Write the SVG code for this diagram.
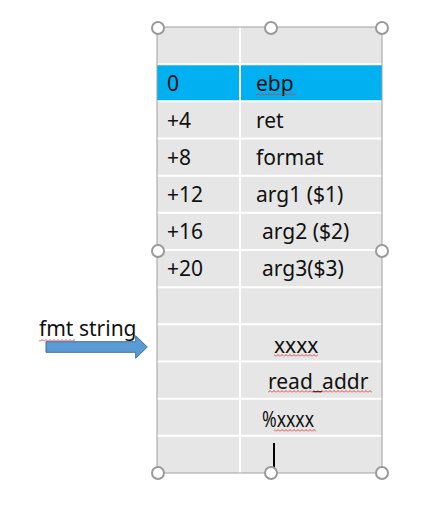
<svg xmlns="http://www.w3.org/2000/svg" width="448" height="509" viewBox="0 0 448 509">
<style>
  .t { font-family: "Noto Sans", "Liberation Sans", sans-serif; font-size: 21px; fill: #111; }
  .grid { stroke: #ffffff; stroke-width: 2; }
  .handle { fill: #ffffff; stroke: #9a9a9a; stroke-width: 2; }
  .sq { fill: url(#squig); }
</style>
<defs>
  <pattern id="squig" width="4" height="3" patternUnits="userSpaceOnUse">
    <path d="M0,2.5 L2,0.5 L4,2.5" fill="none" stroke="#e03535" stroke-width="0.9"/>
  </pattern>
</defs>
<rect width="448" height="509" fill="#ffffff"/>
<g id="table">
  <rect x="157" y="27" width="225" height="446" fill="#e6e6e6"/>
  <rect x="157" y="64.2" width="225" height="37.1" fill="#00b0f0"/>
  <g class="grid">
    <line x1="157" y1="64.2" x2="382" y2="64.2"/>
    <line x1="157" y1="101.3" x2="382" y2="101.3"/>
    <line x1="157" y1="138.5" x2="382" y2="138.5"/>
    <line x1="157" y1="175.7" x2="382" y2="175.7"/>
    <line x1="157" y1="212.8" x2="382" y2="212.8"/>
    <line x1="157" y1="250" x2="382" y2="250"/>
    <line x1="157" y1="287.2" x2="382" y2="287.2"/>
    <line x1="157" y1="324.3" x2="382" y2="324.3"/>
    <line x1="157" y1="361.5" x2="382" y2="361.5"/>
    <line x1="157" y1="398.7" x2="382" y2="398.7"/>
    <line x1="157" y1="435.8" x2="382" y2="435.8"/>
    <line x1="240" y1="27" x2="240" y2="473"/>
  </g>
  <rect x="157" y="27" width="225" height="446" fill="none" stroke="#a0a0a0" stroke-width="1"/>
  <text class="t" x="167" y="91">0</text>
  <text class="t" x="256" y="91">ebp</text>
  <text class="t" x="167" y="128">+4</text>
  <text class="t" x="256" y="128">ret</text>
  <text class="t" x="167" y="165">+8</text>
  <text class="t" x="256" y="165">format</text>
  <text class="t" x="167" y="202">+12</text>
  <text class="t" x="256" y="202">arg1 ($1)</text>
  <text class="t" x="167" y="239">+16</text>
  <text class="t" x="262" y="239">arg2 ($2)</text>
  <text class="t" x="167" y="276">+20</text>
  <text class="t" x="262" y="276">arg3($3)</text>
  <text class="t" x="274" y="353">xxxx</text>
  <text class="t" x="268" y="389">read_addr</text>
  <text class="t" x="262" y="427" textLength="52" lengthAdjust="spacingAndGlyphs">%xxxx</text>
  <rect class="sq" x="256" y="93" width="40" height="3"/>
  <rect class="sq" x="274" y="354" width="44" height="3"/>
  <rect class="sq" x="268" y="390" width="104" height="3"/>
  <rect class="sq" x="274" y="429" width="42" height="3"/>
  <line x1="274" y1="443" x2="274" y2="468" stroke="#000" stroke-width="2"/>
</g>
<g id="label">
  <text class="t" x="39" y="336">fmt string</text>
  <rect class="sq" x="39" y="339" width="36" height="3"/>
</g>
<g id="connectors">
  <path d="M46,341.7 L135.7,341.7 L135.7,335.7 L147.3,347 L135.7,358.3 L135.7,352.3 L46,352.3 Z" fill="#5b9bd5" stroke="#41719c" stroke-width="1"/>
</g>
<g id="handles">
  <circle class="handle" cx="158" cy="28" r="6"/>
  <circle class="handle" cx="271" cy="28" r="6"/>
  <circle class="handle" cx="382" cy="28" r="6"/>
  <circle class="handle" cx="158" cy="251" r="6"/>
  <circle class="handle" cx="382" cy="251" r="6"/>
  <circle class="handle" cx="158" cy="473" r="6"/>
  <circle class="handle" cx="271" cy="473" r="6"/>
  <circle class="handle" cx="382" cy="473" r="6"/>
</g>
</svg>
